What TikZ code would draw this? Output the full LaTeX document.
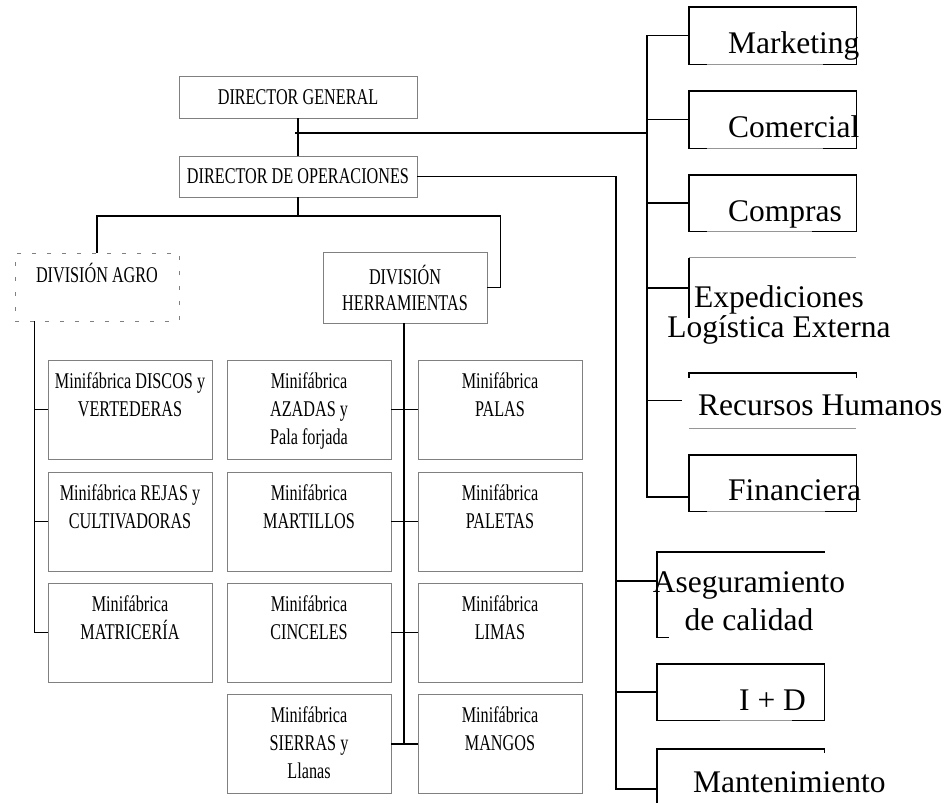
\documentclass[tikz,border=0pt]{standalone}
\usepackage{fontspec}
\setmainfont{Liberation Serif}
\newfontfamily\narrowserif[FakeStretch=0.72]{Liberation Serif}
\usetikzlibrary{positioning}

\definecolor{boxgray}{RGB}{128,128,128}
\definecolor{thingray}{RGB}{150,150,150}

\newcommand{\minifont}{\narrowserif\fontsize{22.5}{28}\selectfont}
\newcommand{\divfont}{\narrowserif\fontsize{22.5}{26}\selectfont}

\tikzset{
  link/.style={black, line width=1.4pt},
  thinline/.style={thingray, line width=0.7pt},
  headbox/.style={draw=boxgray, line width=0.9pt, inner sep=0pt, align=center,
    minimum width=238pt, font=\divfont},
  divbox/.style={headbox, minimum width=164pt},
  minibox/.style={draw=boxgray, line width=0.9pt, inner sep=0pt,
    minimum width=164pt, minimum height=99pt},
  minitext/.style={inner sep=0pt, anchor=base, text width=160pt, align=flush center, font=\minifont},
  staffbox/.style={inner sep=0pt, minimum width=167pt},
  stafftext/.style={inner sep=0pt, anchor=base west, font=\fontsize{31.5}{30}\selectfont},
  staffpara/.style={inner sep=0pt, anchor=base, text width=280pt, align=flush center}
}

\begin{document}
\begin{tikzpicture}[x=1pt, y=-1pt]
\fill[white] (0,0) rectangle (948,803);
\useasboundingbox (0,0) rectangle (948,803);

% direction
\node[headbox, minimum height=42pt] (dg) at (298,97) {DIRECTOR GENERAL};
\node[headbox, minimum height=41pt] (do) at (298,176.5) {DIRECTOR DE OPERACIONES};

% divisions
\node[draw=boxgray, line width=0.9pt, dash pattern=on 4pt off 11pt, inner sep=0pt,
  minimum width=164pt, minimum height=68pt] (agro) at (97,287) {};
\node[inner sep=0pt, anchor=base, font=\divfont] (agro-t) at (97,282) {DIVISIÓN AGRO};
\node[divbox, minimum height=71pt] (herr) at (405,287.5) {DIVISIÓN\\HERRAMIENTAS};

% minifabricas
\node[minibox] (discos) at (130,409.5) {};
\node[minibox] (rejas) at (130,521.5) {};
\node[minibox] (matri) at (130,632.5) {};
\node[minibox] (azadas) at (309,409.5) {};
\node[minibox] (martillos) at (309,521.5) {};
\node[minibox] (cinceles) at (309,632.5) {};
\node[minibox] (sierras) at (309,744) {};
\node[minibox] (palas) at (500,409.5) {};
\node[minibox] (paletas) at (500,521.5) {};
\node[minibox] (limas) at (500,632.5) {};
\node[minibox] (mangos) at (500,744) {};

\node[minitext] (discos-t) at ([yshift=-28.6pt]discos.north) {Minifábrica DISCOS y\\VERTEDERAS};
\node[minitext] (rejas-t) at ([yshift=-28.6pt]rejas.north) {Minifábrica REJAS y\\CULTIVADORAS};
\node[minitext] (matri-t) at ([yshift=-28.6pt]matri.north) {Minifábrica\\MATRICERÍA};
\node[minitext] (azadas-t) at ([yshift=-28.6pt]azadas.north) {Minifábrica\\AZADAS y\\Pala forjada};
\node[minitext] (martillos-t) at ([yshift=-28.6pt]martillos.north) {Minifábrica\\MARTILLOS};
\node[minitext] (cinceles-t) at ([yshift=-28.6pt]cinceles.north) {Minifábrica\\CINCELES};
\node[minitext] (sierras-t) at ([yshift=-28.6pt]sierras.north) {Minifábrica\\SIERRAS y\\Llanas};
\node[minitext] (palas-t) at ([yshift=-28.6pt]palas.north) {Minifábrica\\PALAS};
\node[minitext] (paletas-t) at ([yshift=-28.6pt]paletas.north) {Minifábrica\\PALETAS};
\node[minitext] (limas-t) at ([yshift=-28.6pt]limas.north) {Minifábrica\\LIMAS};
\node[minitext] (mangos-t) at ([yshift=-28.6pt]mangos.north) {Minifábrica\\MANGOS};

% staff areas
\node[staffbox, minimum height=57pt] (mk) at (772.5,35.5) {};
\node[staffbox, minimum height=57pt] (com) at (772.5,119.5) {};
\node[staffbox, minimum height=56pt] (cpr) at (772.5,203) {};
\node[staffbox, minimum height=60pt] (exp) at (772.5,288) {};
\node[staffbox, minimum height=55pt] (rh) at (772.5,400.5) {};
\node[staffbox, minimum height=56pt] (fin) at (772.5,483) {};
\node[staffbox, minimum width=168pt, minimum height=85pt] (ase) at (741,594.5) {};
\node[staffbox, minimum height=56pt] (id) at (740.5,692) {};
\node[staffbox, minimum height=80pt] (mant) at (740.5,789) {};

\draw[link] (mk.south west) ++(18,0) -- (mk.south west) -- (mk.north west) -- (mk.north east) -- (mk.south east) -- ++(-33,0);
\draw[thinline] ([xshift=18pt]mk.south west) -- ([xshift=-33pt]mk.south east);
\draw[link] (com.south west) ++(18,0) -- (com.south west) -- (com.north west) -- (com.north east) -- (com.south east) -- ++(-33,0);
\draw[thinline] ([xshift=18pt]com.south west) -- ([xshift=-33pt]com.south east);
\draw[link] (cpr.south west) ++(18,0) -- (cpr.south west) -- (cpr.north west) -- (cpr.north east) -- (cpr.south east) -- ++(-44,0);
\draw[thinline] ([xshift=18pt]cpr.south west) -- ([xshift=-44pt]cpr.south east);
\draw[thinline] (exp.north west) -- (exp.north east);
\draw[link] (exp.north west) -- (exp.south west);
\draw[link] (rh.north west) ++(0,5) -- (rh.north west) -- (rh.north east) -- ++(0,5);
\draw[thinline] (rh.south west) -- (rh.south east);
\draw[link] (fin.south west) ++(18,0) -- (fin.south west) -- (fin.north west) -- (fin.north east) -- (fin.south east) -- ++(-31,0);
\draw[thinline] ([xshift=18pt]fin.south west) -- ([xshift=-31pt]fin.south east);
\draw[link] (ase.south west) ++(12,0) -- (ase.south west) -- (ase.north west) -- (ase.north east);
\draw[link] (id.south west) ++(63,0) -- (id.south west) -- (id.north west) -- (id.north east) -- (id.south east) -- ++(-32,0);
\draw[thinline] ([xshift=63pt]id.south west) -- ([xshift=-32pt]id.south east);
\draw[link] (mant.south west) -- (mant.north west) -- (mant.north east) -- ++(0,4);

\node[stafftext] (mk-t) at (728,53) {Marketing};
\node[stafftext] (com-t) at (728,137) {Comercial};
\node[stafftext] (cpr-t) at (728,221) {Compras};
\node[staffpara, font=\fontsize{31.5}{30}\selectfont] (exp-t) at (779,307) {Expediciones\\Logística Externa};
\node[stafftext] (rh-t) at (698,415) {Recursos Humanos};
\node[stafftext] (fin-t) at (728,500) {Financiera};
\node[staffpara, font=\fontsize{31.5}{38}\selectfont] (ase-t) at (749,592) {Aseguramiento\\de calidad};
\node[stafftext] (id-t) at (739,710) {I + D};
\node[stafftext] (mant-t) at (693,792) {Mantenimiento};

% connectors
\coordinate (dgsplit) at (295,133);
\coordinate (stafftrunk) at (647,133);
\coordinate (divsplit) at (298,216);
\draw[link] (dg.south) -- (do.north);
\draw[link] (dgsplit) -- (stafftrunk);
\draw[link] (mk.west) -- ++(-42,0) |- ([yshift=-14pt]fin.west);
\draw[link] (com.west) -- ++(-42,0);
\draw[link] (cpr.west) -- ++(-42,0);
\draw[link] (exp.west) -- ++(-42,0);
\draw[link] ([xshift=-7pt]rh.west) -- ++(-35,0);
\draw[link] (do.east) -| ([xshift=-41pt]mant.west) -- (mant.west);
\draw[link] ([yshift=13.5pt]ase.west) -- ++(-41,0);
\draw[link] (id.west) -- ++(-41,0);
\draw[link] (do.south) -- (divsplit);
\draw[link] (agro.north) |- (divsplit) -| ([xshift=13pt]herr.east) -- (herr.east);
\draw[link] ([xshift=20pt]agro.south west) |- (matri.west);
\draw[link] (discos.west) -- ++(-13,0);
\draw[link] (rejas.west) -- ++(-13,0);
\draw[link] ([xshift=-1pt]herr.south) -- ([xshift=-1pt]herr.south |- sierras.east);
\draw[link] (azadas.east) -- (palas.west);
\draw[link] (martillos.east) -- (paletas.west);
\draw[link] (cinceles.east) -- (limas.west);
\draw[link] (sierras.east) -- (mangos.west);
\end{tikzpicture}
\end{document}
